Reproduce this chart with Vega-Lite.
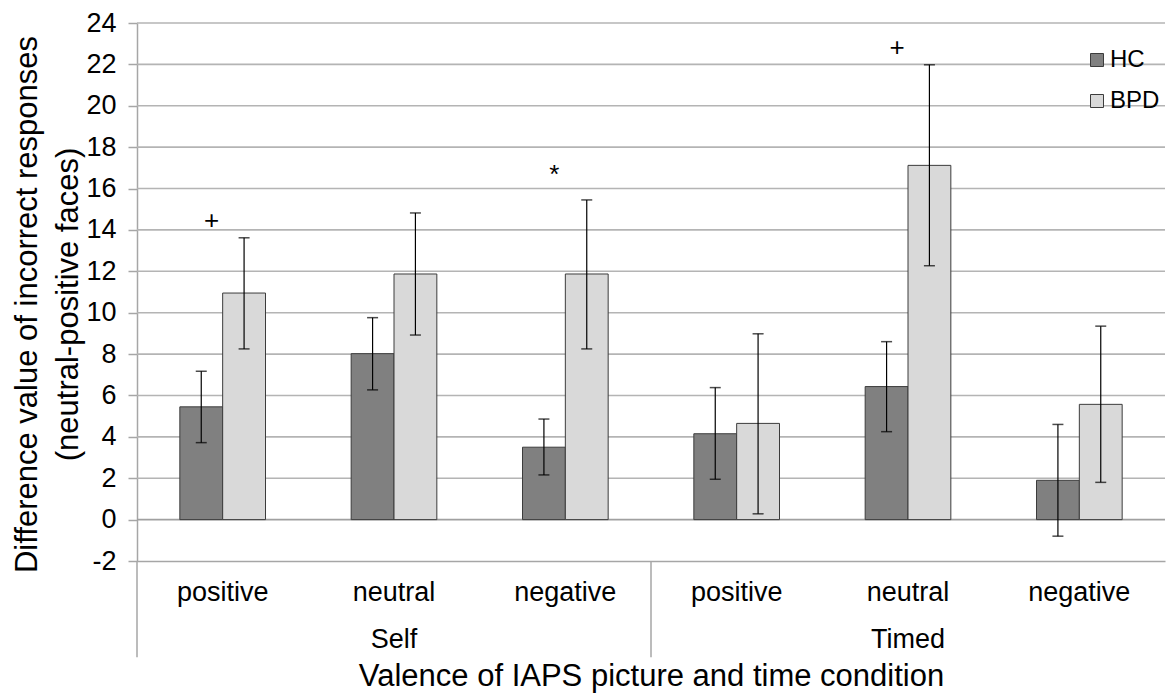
{
  "$schema": "https://vega.github.io/schema/vega-lite/v6.json",
  "autosize": {"type": "none"},
  "padding": {"left": 137, "top": 23, "right": 1, "bottom": 132},
  "width": 1028,
  "height": 538,
  "background": "white",
  "config": {
    "view": {"stroke": null},
    "font": "Liberation Sans",
    "axisX": {
      "domainColor": "#a6a6a6", "domainWidth": 1.5, "ticks": false, "grid": false,
      "labelAngle": 0, "labelFontSize": 27, "labelColor": "#000000", "labelPadding": 18,
      "titleFontSize": 31, "titleFontWeight": "normal", "titleColor": "#000000", "titlePadding": 56
    },
    "axisY": {
      "domainColor": "#a6a6a6", "domainWidth": 1.5, "tickColor": "#a6a6a6", "tickWidth": 1.5, "tickSize": 9,
      "labelFontSize": 27, "labelColor": "#000000", "labelPadding": 12,
      "titleFontSize": 31, "titleFontWeight": "normal", "titleColor": "#000000",
      "titleLineHeight": 41, "titlePadding": 1, "titleY": 281
    }
  },
  "resolve": {"axis": {"x": "independent", "y": "independent"}},
  "datasets": {
    "bars": [
      {"cat": "Self positive", "group": "HC", "mean": 5.45, "lo": 3.72, "hi": 7.17},
      {"cat": "Self positive", "group": "BPD", "mean": 10.95, "lo": 8.25, "hi": 13.62},
      {"cat": "Self neutral", "group": "HC", "mean": 8.02, "lo": 6.27, "hi": 9.76},
      {"cat": "Self neutral", "group": "BPD", "mean": 11.87, "lo": 8.92, "hi": 14.82},
      {"cat": "Self negative", "group": "HC", "mean": 3.5, "lo": 2.16, "hi": 4.86},
      {"cat": "Self negative", "group": "BPD", "mean": 11.87, "lo": 8.25, "hi": 15.45},
      {"cat": "Timed positive", "group": "HC", "mean": 4.15, "lo": 1.95, "hi": 6.38},
      {"cat": "Timed positive", "group": "BPD", "mean": 4.65, "lo": 0.28, "hi": 8.98},
      {"cat": "Timed neutral", "group": "HC", "mean": 6.43, "lo": 4.25, "hi": 8.6},
      {"cat": "Timed neutral", "group": "BPD", "mean": 17.12, "lo": 12.27, "hi": 21.98},
      {"cat": "Timed negative", "group": "HC", "mean": 1.9, "lo": -0.8, "hi": 4.6},
      {"cat": "Timed negative", "group": "BPD", "mean": 5.57, "lo": 1.8, "hi": 9.35}
    ],
    "hlines": [{"v": 0}, {"v": 2}, {"v": 4}, {"v": 6}, {"v": 8}, {"v": 10}, {"v": 12}, {"v": 14}, {"v": 16}, {"v": 18}, {"v": 20}, {"v": 22}, {"v": 24}],
    "sig": [
      {"cat": "Self positive", "y": 14.45, "t": "+"},
      {"cat": "Self negative", "y": 16.65, "t": "*"},
      {"cat": "Timed neutral", "y": 22.8, "t": "+"}
    ],
    "cond": [
      {"cat": "Self neutral", "y": -6.2, "t": "Self"},
      {"cat": "Timed neutral", "y": -6.2, "t": "Timed"}
    ],
    "sep": [
      {"cat": "Self positive", "y": -2, "y2": -6.65},
      {"cat": "Timed positive", "y": -2, "y2": -6.65}
    ]
  },
  "layer": [
    {
      "data": {"name": "hlines"},
      "mark": {"type": "rule", "strokeWidth": 1.6},
      "encoding": {
        "y": {"field": "v", "type": "quantitative", "axis": null, "scale": {"domain": [-2, 24], "nice": false, "zero": false}},
        "color": {"condition": {"test": "datum.v === 0", "value": "#a0a0a0"}, "value": "#b4b4b4"}
      }
    },
    {
      "data": {"name": "bars"},
      "mark": {"type": "bar", "stroke": "#3c3c3c", "strokeWidth": 1},
      "encoding": {
        "x": {
          "field": "cat", "type": "nominal",
          "scale": {"domain": ["Self positive", "Self neutral", "Self negative", "Timed positive", "Timed neutral", "Timed negative"], "paddingInner": 0, "paddingOuter": 0},
          "axis": {"orient": "bottom", "title": "Valence of IAPS picture and time condition", "labelExpr": "split(datum.label, ' ')[1]"}
        },
        "xOffset": {"field": "group", "type": "nominal", "sort": ["HC", "BPD"], "scale": {"paddingInner": 0, "paddingOuter": 1.5}},
        "y": {
          "field": "mean", "type": "quantitative",
          "scale": {"domain": [-2, 24], "nice": false, "zero": false},
          "axis": {"orient": "left", "grid": false, "title": ["Difference value of incorrect responses", "(neutral-positive faces)"], "values": [-2, 0, 2, 4, 6, 8, 10, 12, 14, 16, 18, 20, 22, 24], "labelExpr": "'' + datum.value"}
        },
        "y2": {"datum": 0},
        "color": {
          "field": "group", "type": "nominal", "sort": ["HC", "BPD"],
          "scale": {"domain": ["HC", "BPD"], "range": ["#808080", "#d9d9d9"]},
          "legend": {
            "title": null, "orient": "none", "legendX": 948, "legendY": 25, "padding": 0,
            "symbolType": "square", "symbolSize": 169, "symbolStrokeColor": "#3c3c3c", "symbolStrokeWidth": 1, "symbolOpacity": 1,
            "labelFontSize": 24, "labelColor": "#000000", "labelOffset": 1, "rowPadding": 17
          }
        }
      }
    },
    {
      "data": {"name": "bars"},
      "mark": {"type": "rule", "color": "#000000", "strokeWidth": 1.2},
      "encoding": {
        "x": {"field": "cat", "type": "nominal", "axis": null, "scale": {"domain": ["Self positive", "Self neutral", "Self negative", "Timed positive", "Timed neutral", "Timed negative"], "paddingInner": 0, "paddingOuter": 0}},
        "xOffset": {"field": "group", "type": "nominal", "sort": ["HC", "BPD"], "scale": {"paddingInner": 0, "paddingOuter": 1.5}},
        "y": {"field": "lo", "type": "quantitative", "axis": null},
        "y2": {"field": "hi"}
      }
    },
    {
      "data": {"name": "bars"},
      "mark": {"type": "tick", "color": "#000000", "size": 11, "thickness": 1.5},
      "encoding": {
        "x": {"field": "cat", "type": "nominal", "axis": null, "scale": {"domain": ["Self positive", "Self neutral", "Self negative", "Timed positive", "Timed neutral", "Timed negative"], "paddingInner": 0, "paddingOuter": 0}},
        "xOffset": {"field": "group", "type": "nominal", "sort": ["HC", "BPD"], "scale": {"paddingInner": 0, "paddingOuter": 1.5}},
        "y": {"field": "lo", "type": "quantitative", "axis": null}
      }
    },
    {
      "data": {"name": "bars"},
      "mark": {"type": "tick", "color": "#000000", "size": 11, "thickness": 1.5},
      "encoding": {
        "x": {"field": "cat", "type": "nominal", "axis": null, "scale": {"domain": ["Self positive", "Self neutral", "Self negative", "Timed positive", "Timed neutral", "Timed negative"], "paddingInner": 0, "paddingOuter": 0}},
        "xOffset": {"field": "group", "type": "nominal", "sort": ["HC", "BPD"], "scale": {"paddingInner": 0, "paddingOuter": 1.5}},
        "y": {"field": "hi", "type": "quantitative", "axis": null}
      }
    },
    {
      "data": {"name": "sig"},
      "mark": {"type": "text", "fontSize": 26, "color": "#000000", "baseline": "middle", "align": "center", "dx": -11},
      "encoding": {
        "x": {"field": "cat", "type": "nominal", "axis": null, "scale": {"domain": ["Self positive", "Self neutral", "Self negative", "Timed positive", "Timed neutral", "Timed negative"], "paddingInner": 0, "paddingOuter": 0}},
        "y": {"field": "y", "type": "quantitative", "axis": null},
        "text": {"field": "t"}
      }
    },
    {
      "data": {"name": "cond"},
      "mark": {"type": "text", "fontSize": 27, "color": "#000000", "baseline": "alphabetic", "align": "center"},
      "encoding": {
        "x": {"field": "cat", "type": "nominal", "axis": null, "scale": {"domain": ["Self positive", "Self neutral", "Self negative", "Timed positive", "Timed neutral", "Timed negative"], "paddingInner": 0, "paddingOuter": 0}},
        "y": {"field": "y", "type": "quantitative", "axis": null},
        "text": {"field": "t"}
      }
    },
    {
      "data": {"name": "sep"},
      "mark": {"type": "rule", "color": "#a6a6a6", "strokeWidth": 1.5},
      "encoding": {
        "x": {"field": "cat", "type": "nominal", "bandPosition": 0, "axis": null, "scale": {"domain": ["Self positive", "Self neutral", "Self negative", "Timed positive", "Timed neutral", "Timed negative"], "paddingInner": 0, "paddingOuter": 0}},
        "y": {"field": "y", "type": "quantitative", "axis": null},
        "y2": {"field": "y2"}
      }
    }
  ]
}
